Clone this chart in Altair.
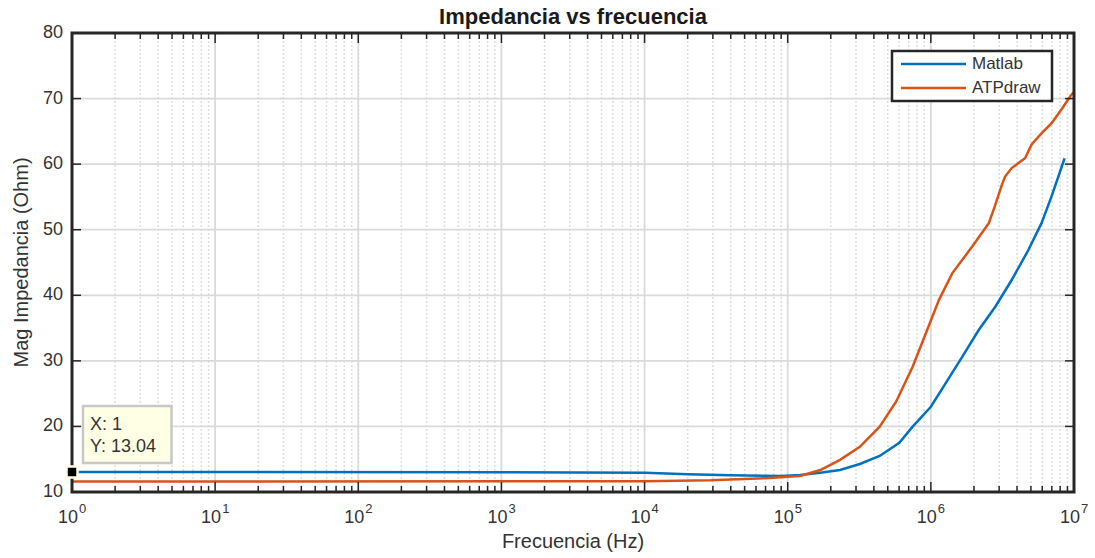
import altair as alt
import pandas as pd

# Impedance magnitude (Ohm) versus frequency (Hz)
matlab_freq = [1, 1e3, 1e4, 2e4, 4e4, 7e4, 8.9e4, 1.22e5, 1.69e5, 2.32e5, 3.19e5,
               4.39e5, 6.02e5, 7.46e5, 1e6, 1.27e6, 1.66e6, 2.16e6, 2.82e6,
               3.67e6, 4.8e6, 5.93e6, 6.95e6, 8.6e6]
matlab_mag = [13.04, 13.03, 12.95, 12.7, 12.55, 12.47, 12.44, 12.6, 12.95, 13.35, 14.27,
              15.5, 17.5, 19.96, 23.0, 26.6, 30.65, 34.7, 38.26,
              42.33, 46.9, 51.0, 55.0, 60.9]

atp_freq = [1, 1e4, 2.9e4, 5e4, 7e4, 8.9e4, 1.22e5, 1.69e5, 2.32e5, 3.19e5,
            4.39e5, 5.73e5, 7.46e5, 9.23e5, 1.14e6, 1.41e6, 1.94e6, 2.54e6,
            2.82e6, 3.13e6, 3.3e6, 3.67e6, 4.55e6, 5.06e6, 5.93e6, 6.95e6,
            8.15e6, 9.55e6, 1e7]
atp_mag = [11.6, 11.65, 11.8, 12.0, 12.1, 12.24, 12.44, 13.35, 14.9, 16.9,
           19.96, 23.8, 29.1, 34.2, 39.3, 43.35, 47.4, 51.0,
           53.8, 56.8, 58.1, 59.4, 60.9, 63.0, 64.7, 66.2,
           68.3, 70.55, 71.0]

series_names = ["Matlab", "ATPdraw"]
series_colors = ["#0072BD", "#D95319"]

decade_exponents = [0, 1, 2, 3, 4, 5, 6, 7]
minor_multipliers = [2, 3, 4, 5, 6, 7, 8, 9]
y_ticks = [10, 20, 30, 40, 50, 60, 70, 80]

title_text = "Impedancia vs frecuencia"
x_title = "Frecuencia (Hz)"
y_title = "Mag Impedancia (Ohm)"

# data cursor
tip_freq = 1
tip_mag = 13.04

W, H = 1002, 459
FONT = "Liberation Sans"
FRAME = "#262626"
TEXT = "#333333"

lines_df = pd.concat([
    pd.DataFrame({"freq": matlab_freq, "mag": matlab_mag, "serie": "Matlab"}),
    pd.DataFrame({"freq": atp_freq, "mag": atp_mag, "serie": "ATPdraw"}),
])
decades_df = pd.DataFrame({"freq": [10.0 ** e for e in decade_exponents],
                           "exp": [str(e) for e in decade_exponents]})
minor_df = pd.DataFrame({"freq": [m * 10.0 ** e for e in decade_exponents[:-1]
                                  for m in minor_multipliers]})
ygrid_df = pd.DataFrame({"mag": y_ticks, "lbl": [str(v) for v in y_ticks]})
tip_df = pd.DataFrame({"freq": [tip_freq], "mag": [tip_mag],
                       "lx": [f"X: {tip_freq:g}"], "ly": [f"Y: {tip_mag:.2f}"]})
one_df = pd.DataFrame({"k": [0]})

xs = alt.Scale(type="log", domain=[1, 1e7], nice=False)
ys = alt.Scale(domain=[10, 80], nice=False, zero=False)


def X(field="freq"):
    return alt.X(f"{field}:Q", scale=xs, axis=None)


def Y(field="mag"):
    return alt.Y(f"{field}:Q", scale=ys, axis=None)


# grid
minor_grid = alt.Chart(minor_df).mark_rule(
    color="#dedede", strokeWidth=1.5, strokeDash=[2, 2]
).encode(x=X(), y=alt.value(0), y2=alt.value(H))

major_grid = alt.Chart(decades_df).mark_rule(color="#dadada", strokeWidth=1.8).encode(
    x=X(), y=alt.value(0), y2=alt.value(H))

y_grid = alt.Chart(ygrid_df).mark_rule(color="#dadada", strokeWidth=1.8).encode(
    y=Y(), x=alt.value(0), x2=alt.value(W))

# curves
curves = alt.Chart(lines_df).mark_line(strokeWidth=2.5).encode(
    x=X(), y=Y(),
    color=alt.Color("serie:N",
                    scale=alt.Scale(domain=series_names, range=series_colors),
                    legend=None),
    detail="serie:N",
)


# inward ticks on the four sides
def x_ticks(df, length):
    bottom = alt.Chart(df).mark_rule(color=FRAME, strokeWidth=1.5).encode(
        x=X(), y=alt.value(H), y2=alt.value(H - length))
    top = alt.Chart(df).mark_rule(color=FRAME, strokeWidth=1.5).encode(
        x=X(), y=alt.value(0), y2=alt.value(length))
    return [bottom, top]


y_left = alt.Chart(ygrid_df).mark_rule(color=FRAME, strokeWidth=1.5).encode(
    y=Y(), x=alt.value(0), x2=alt.value(9))
y_right = alt.Chart(ygrid_df).mark_rule(color=FRAME, strokeWidth=1.5).encode(
    y=Y(), x=alt.value(W), x2=alt.value(W - 9))

# axes box
frame = alt.Chart(one_df).mark_rect(fill=None, stroke=FRAME, strokeWidth=3).encode(
    x=alt.value(0), x2=alt.value(W), y=alt.value(0), y2=alt.value(H))

# tick labels: 10^n below, values on the left
base_lbl = alt.Chart(decades_df).mark_text(
    text="10", font=FONT, fontSize=18, align="right", baseline="alphabetic",
    dx=6, color=TEXT
).encode(x=X(), y=alt.value(H + 31))
exp_lbl = alt.Chart(decades_df).mark_text(
    font=FONT, fontSize=13, align="left", baseline="alphabetic", dx=7, color=TEXT
).encode(x=X(), y=alt.value(H + 21), text="exp:N")
y_lbl = alt.Chart(ygrid_df).mark_text(
    font=FONT, fontSize=18, align="right", baseline="middle", color=TEXT
).encode(y=Y(), x=alt.value(-9), text="lbl:N")

# chart and axis titles
title_mark = alt.Chart(one_df).mark_text(
    text=title_text, font=FONT, fontSize=22, fontWeight="bold", align="center",
    baseline="alphabetic", color="#1a1a1a"
).encode(x=alt.value(W / 2), y=alt.value(-9))
x_title_mark = alt.Chart(one_df).mark_text(
    text=x_title, font=FONT, fontSize=20, align="center", baseline="alphabetic",
    color=TEXT
).encode(x=alt.value(W / 2), y=alt.value(H + 56))
y_title_mark = alt.Chart(one_df).mark_text(
    text=y_title, font=FONT, fontSize=20, align="center", baseline="middle",
    angle=270, color=TEXT
).encode(x=alt.value(-50), y=alt.value(H / 2))

# legend box
legend_layers = [
    alt.Chart(one_df).mark_rect(fill="white", stroke=FRAME, strokeWidth=2.5).encode(
        x=alt.value(820), x2=alt.value(980), y=alt.value(18), y2=alt.value(68))
]
for i, (name, col) in enumerate(zip(series_names, series_colors)):
    row_y = 31 + 24 * i
    legend_layers.append(
        alt.Chart(one_df).mark_rule(color=col, strokeWidth=2.5).encode(
            x=alt.value(829), x2=alt.value(894), y=alt.value(row_y)))
    legend_layers.append(
        alt.Chart(one_df).mark_text(text=name, font=FONT, fontSize=17, color=TEXT,
                                    align="left", baseline="middle").encode(
            x=alt.value(900), y=alt.value(row_y)))

# data tip
tip_box = alt.Chart(one_df).mark_rect(
    fill="#FFFFE6", stroke="#C8C8C8", strokeWidth=2.5
).encode(x=alt.value(11), x2=alt.value(99.5), y=alt.value(373), y2=alt.value(430))
tip_x = alt.Chart(tip_df).mark_text(
    font=FONT, fontSize=18, align="left", baseline="alphabetic", color=TEXT
).encode(x=alt.value(18), y=alt.value(397), text="lx:N")
tip_y = alt.Chart(tip_df).mark_text(
    font=FONT, fontSize=18, align="left", baseline="alphabetic", color=TEXT
).encode(x=alt.value(18), y=alt.value(419), text="ly:N")
tip_marker = alt.Chart(tip_df).mark_square(
    size=121, fill="black", stroke="#FFFFE6", strokeWidth=2.5, opacity=1
).encode(x=X(), y=Y())

layers = ([minor_grid, major_grid, y_grid, curves]
          + x_ticks(minor_df, 6) + x_ticks(decades_df, 10)
          + [y_left, y_right, frame, base_lbl, exp_lbl, y_lbl,
             title_mark, x_title_mark, y_title_mark]
          + legend_layers
          + [tip_box, tip_x, tip_y, tip_marker])

chart = alt.layer(*layers).properties(
    width=W, height=H,
    autosize=alt.AutoSizeParams(type="none"),
    padding={"left": 72, "top": 33, "right": 21, "bottom": 66},
    background="white",
).configure_view(stroke=None)

chart.save("out.html", embed_options={"renderer": "svg", "actions": False})
